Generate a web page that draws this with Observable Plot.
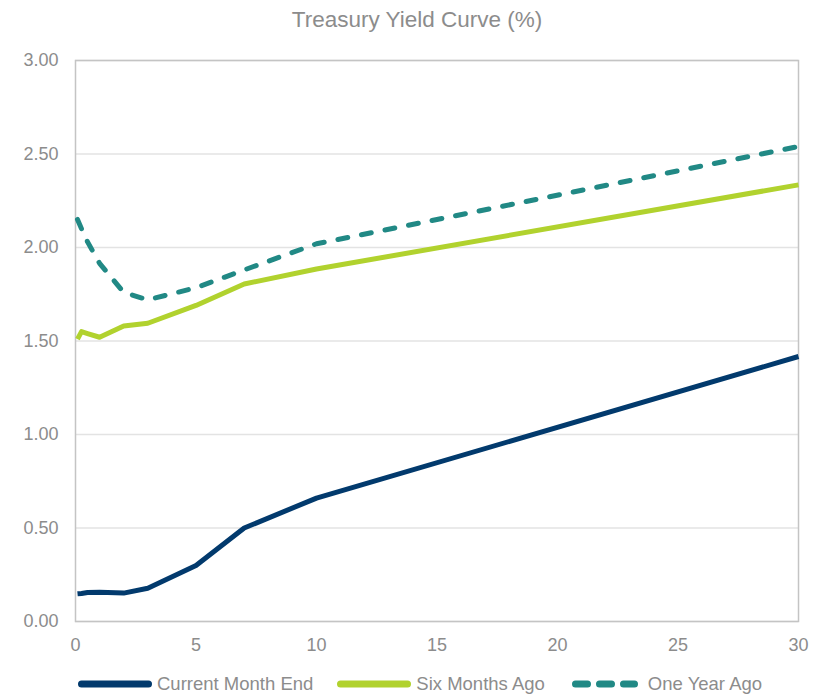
<!DOCTYPE html>
<html>
<head>
<meta charset="utf-8">
<script src="https://cdn.jsdelivr.net/npm/d3@7"></script>
<script src="https://cdn.jsdelivr.net/npm/@observablehq/plot@0.6"></script>
<style>
  html, body { margin: 0; padding: 0; background: #fff; }
  body { width: 814px; height: 694px; overflow: hidden; font-family: "Liberation Sans", Arial, sans-serif; }
  #title { height: 40px; line-height: 40px; text-align: center; padding-left: 20px; box-sizing: border-box; width: 814px;
           font-size: 22.5px; color: #8c8c8c; }
  #chart svg { display: block; }
  #legend { height: 34px; margin-top: 7px; display: flex; align-items: center; padding-left: 78px; font-size: 18.5px; color: #8c8c8c; }
  .item { display: flex; align-items: center; }
  .item svg { display: block; }
</style>
</head>
<body>
<div id="title">Treasury Yield Curve (%)</div>
<div id="chart"></div>
<div id="legend"></div>
<script>
// Maturities in years (1M, 3M, 6M, 1Y, 2Y, 3Y, 5Y, 7Y, 10Y, 30Y)
const maturities = [0.083, 0.25, 0.5, 1, 2, 3, 5, 7, 10, 30];
const seriesNames = ["Current Month End", "Six Months Ago", "One Year Ago"];
const currentMonthEnd = [0.148, 0.15, 0.155, 0.157, 0.152, 0.178, 0.30, 0.50, 0.66, 1.417];
const sixMonthsAgo    = [1.51, 1.55, 1.54, 1.52, 1.58, 1.595, 1.69, 1.805, 1.885, 2.335];
const oneYearAgo      = [2.15, 2.10, 2.03, 1.915, 1.76, 1.72, 1.785, 1.88, 2.02, 2.54];
const xTicks = [0, 5, 10, 15, 20, 25, 30];
const yTicks = [0, 0.5, 1, 1.5, 2, 2.5, 3];
const colors = ["#023a6d", "#b1d22e", "#218985"];
const dashes = [null, null, "10,14"];

const seriesValues = [currentMonthEnd, sixMonthsAgo, oneYearAgo];
const tables = seriesValues.map((vals, i) =>
  maturities.map((m, j) => ({maturity: m, yield: vals[j], series: seriesNames[i]})));

const lineMarks = tables.map((t, i) => Plot.line(t, {
  x: "maturity", y: "yield", stroke: colors[i], strokeWidth: 5,
  strokeLinejoin: "round", strokeLinecap: dashes[i] ? "round" : "butt",
  strokeDasharray: dashes[i] || undefined
}));

const chart = Plot.plot({
  width: 814, height: 620,
  marginLeft: 75, marginRight: 16, marginTop: 20, marginBottom: 39,
  style: {fontFamily: '"Liberation Sans", Arial, sans-serif', fontSize: "18px", color: "#8c8c8c", background: "#fff"},
  x: {domain: [0, 30], label: null},
  y: {domain: [0, 3], label: null},
  marks: [
    Plot.gridY(yTicks, {stroke: "#e3e3e3", strokeOpacity: 1, strokeWidth: 1.5}),
    Plot.frame({stroke: "#c4c4c4", strokeWidth: 1.5}),
    Plot.axisX(xTicks, {tickSize: 0, tickPadding: 17, tickFormat: d => String(d), fill: "#8c8c8c", fontSize: 18, label: null}),
    Plot.axisY(yTicks, {tickSize: 0, tickPadding: 17, tickFormat: d => d.toFixed(2), fill: "#8c8c8c", fontSize: 18, label: null}),
    ...lineMarks
  ]
});
document.getElementById("chart").appendChild(chart);

// Legend
const legend = d3.select("#legend");
const gaps = [0, 24, 27];
const textGap = [5, 5, 10];
seriesNames.forEach((name, i) => {
  const item = legend.append("div").attr("class", "item").style("margin-left", gaps[i] + "px");
  const w = i === 2 ? 66 : 74;
  const s = item.append("svg").attr("width", w).attr("height", 12);
  s.append("line").attr("x1", 3.5).attr("x2", w - 3.5).attr("y1", 6).attr("y2", 6)
    .attr("stroke", colors[i]).attr("stroke-width", 7).attr("stroke-linecap", "round")
    .attr("stroke-dasharray", i === 2 ? "12,12" : null);
  item.append("span").style("margin-left", textGap[i] + "px").text(name);
});
</script>
</body>
</html>
